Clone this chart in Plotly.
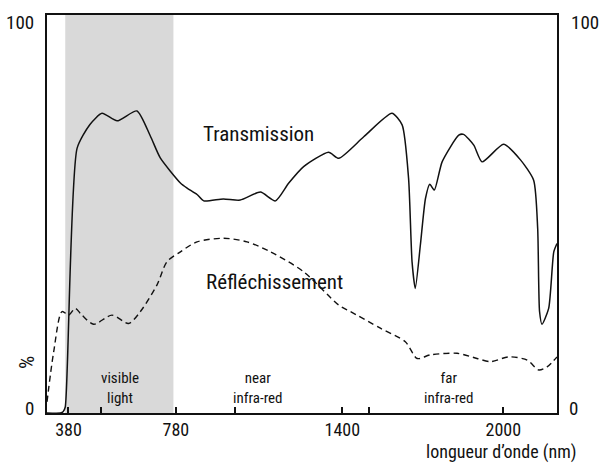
import plotly.graph_objects as go

# Wavelength (nm) and transmission (%)
trans_nm = [300, 350, 360, 368, 412, 460, 505, 561, 635, 685, 722, 797, 822, 859, 884, 957, 1020,
            1095, 1151, 1200, 1256, 1349, 1387, 1480, 1585, 1623, 1647, 1660, 1672, 1691, 1710,
            1726, 1743, 1772, 1834, 1852, 1890, 1921, 2001, 2064, 2113, 2128, 2135, 2144, 2169,
            2188, 2200]
trans_pct = [0, 0, 0.3, 1.5, 66.5, 72.5, 75.3, 73.4, 75.9, 69.6, 64.1, 57.8, 56.5, 54.9, 53.3, 53.8,
             53.5, 55.5, 53.3, 57.7, 61.9, 65.5, 64.0, 69.4, 75.3, 72.4, 59.0, 38.0, 31.3, 42.2,
             53.9, 57.5, 56.0, 63.1, 69.8, 70.0, 67.3, 63.1, 67.5, 63.6, 58.5, 46.4, 25.5, 22.3,
             26.3, 40.5, 42.6]

# Wavelength (nm) and reflection (%)
refl_nm = [300, 325, 356, 381, 405, 430, 474, 542, 604, 648, 710, 747, 797, 859, 958, 1045, 1132,
           1256, 1387, 1430, 1542, 1635, 1679, 1728, 1828, 1902, 1952, 2020, 2089, 2132, 2163, 2200]
refl_pct = [2.8, 15.4, 25.5, 24.6, 26.3, 24.6, 22.3, 24.6, 22.5, 25.5, 32.2, 38.0, 40.5, 43.0, 43.9,
            43.0, 40.5, 35.5, 27.1, 25.5, 21.3, 17.9, 13.7, 14.6, 15.0, 13.7, 12.9, 14.1, 13.3,
            10.8, 11.6, 14.1]

visible_band = [368, 771]
tick_vals = [380, 500, 780, 1000, 1400, 1500, 2000]
tick_text = ["380", "", "780", "", "1400", "", "2000"]
x_range = [300, 2200]
y_range = [0, 100]

FONT = "Roboto Condensed, DejaVu Sans Condensed, Liberation Sans Narrow, Liberation Sans, sans-serif"
ink = "#111111"

fig = go.Figure()
fig.add_shape(type="rect", xref="x", yref="y", x0=visible_band[0], x1=visible_band[1],
              y0=y_range[0], y1=y_range[1], fillcolor="#d9d9d9", line_width=0, layer="below")

fig.add_trace(go.Scatter(x=trans_nm, y=trans_pct, mode="lines",
                         line=dict(color=ink, width=1.5, shape="spline", smoothing=0.6),
                         showlegend=False, hoverinfo="skip"))
fig.add_trace(go.Scatter(x=refl_nm, y=refl_pct, mode="lines",
                         line=dict(color=ink, width=1.4, dash="6px,4px", shape="spline", smoothing=0.8),
                         showlegend=False, hoverinfo="skip"))

fig.update_layout(
    width=599, height=464,
    margin=dict(l=46.7, r=42.3, t=15, b=51, pad=0),
    plot_bgcolor="white", paper_bgcolor="white",
    font=dict(family=FONT, color=ink, size=18),
    xaxis=dict(range=x_range, tickvals=tick_vals, ticktext=tick_text, ticks="inside",
               ticklen=6, tickwidth=1.5, tickcolor=ink, showgrid=False, zeroline=False,
               showline=True, linecolor=ink, linewidth=1.5, mirror=True,
               tickfont=dict(family=FONT, size=18, color=ink)),
    yaxis=dict(range=y_range, showticklabels=False, ticks="", showgrid=False, zeroline=False,
               showline=True, linecolor=ink, linewidth=1.5, mirror=True),
)

anns = [
    dict(text="100", x=0, xanchor="right", xshift=-11, y=1, yshift=-7),
    dict(text="0", x=0, xanchor="right", xshift=-11, y=0, yshift=5),
    dict(text="100", x=1, xanchor="left", xshift=12, y=1, yshift=-7),
    dict(text="0", x=1, xanchor="left", xshift=10, y=0, yshift=5),
]
for a in anns:
    fig.add_annotation(xref="paper", yref="paper", showarrow=False, yanchor="middle",
                       font=dict(family=FONT, size=19, color=ink), **a)

fig.add_annotation(text="%", xref="paper", yref="paper", x=0, xanchor="center", xshift=-20,
                   y=0, yanchor="middle", yshift=50, textangle=-90, showarrow=False,
                   font=dict(family=FONT, size=21, color=ink))
fig.add_annotation(text="longueur d\u2019onde (nm)", xref="paper", yref="paper", x=1, xanchor="right",
                   xshift=19.5, y=0, yanchor="bottom", yshift=-51, showarrow=False, borderpad=0,
                   font=dict(family=FONT, size=18, color=ink))

fig.add_annotation(text="Transmission", x=1087, y=70, xref="x", yref="y", showarrow=False,
                   font=dict(family=FONT, size=21, color=ink))
fig.add_annotation(text="R\u00e9fl\u00e9chissement", x=1147, y=32.9, xref="x", yref="y",
                   showarrow=False, font=dict(family=FONT, size=21, color=ink))

for label, xc in [("visible<br>light", 573), ("near<br>infra-red", 1087), ("far<br>infra-red", 1799)]:
    fig.add_annotation(text=label, x=xc, y=6.4, xref="x", yref="y", showarrow=False,
                       font=dict(family=FONT, size=15, color=ink), align="center")

fig.write_html("out.html", config={"displayModeBar": False},
               post_script="document.body.style.margin='0';")
